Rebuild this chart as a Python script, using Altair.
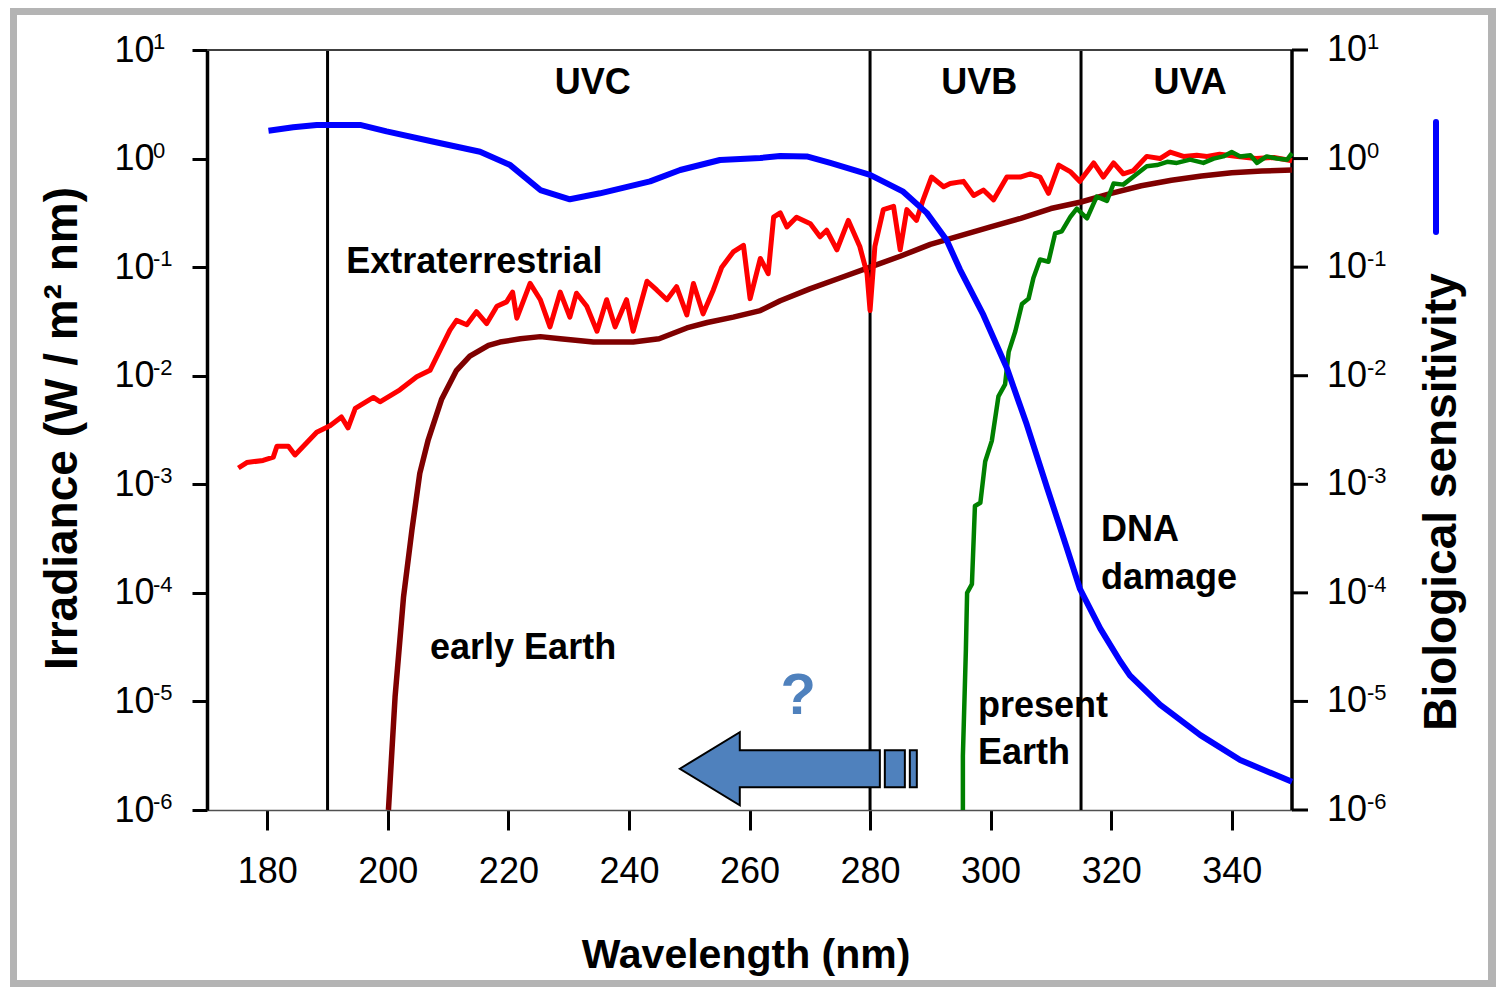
import altair as alt
import pandas as pd

# ---------------- data ----------------
# Extraterrestrial solar irradiance (red), wavelength nm / log10(W m-2 nm-1)
extra_nm = [175.2, 176.6, 179.3, 181.0, 181.6, 183.5, 184.6, 186.5, 188.2, 190.4,
            192.3, 193.4, 194.6, 197.6, 198.7, 202.0, 204.8, 207.0, 208.7, 210.3,
            211.4, 213.1, 214.7, 216.4, 218.1, 219.7, 220.7, 221.4, 223.6, 225.3,
            226.9, 228.6, 230.2, 231.3, 233.0, 234.7, 236.3, 237.7, 239.6, 240.7,
            243.0, 244.6, 246.3, 247.9, 249.6, 250.7, 252.3, 254.0, 255.4, 257.3,
            259.0, 260.1, 261.8, 263.1, 264.0, 265.1, 266.2, 267.8, 270.1, 271.7,
            272.8, 274.5, 276.4, 278.3, 279.5, 280.0, 280.8, 282.2, 283.9, 285.0,
            286.1, 287.7, 288.8, 290.2, 292.2, 293.3, 295.5, 297.2, 298.8, 300.5,
            302.7, 304.9, 306.6, 308.2, 309.6, 311.3, 313.2, 314.8, 317.1, 318.7,
            320.4, 322.0, 323.7, 325.9, 328.1, 329.8, 332.0, 334.2, 335.9, 338.0,
            341.0, 344.0, 347.0, 350.0]
extra_log = [-2.85, -2.80, -2.78, -2.75, -2.65, -2.65, -2.73, -2.62, -2.52, -2.46,
             -2.38, -2.48, -2.30, -2.20, -2.24, -2.13, -2.01, -1.95, -1.76, -1.58,
             -1.49, -1.53, -1.41, -1.52, -1.36, -1.32, -1.23, -1.47, -1.15, -1.30,
             -1.55, -1.23, -1.46, -1.24, -1.36, -1.59, -1.30, -1.55, -1.30, -1.59,
             -1.13, -1.21, -1.30, -1.18, -1.44, -1.15, -1.43, -1.21, -1.00, -0.86,
             -0.80, -1.29, -0.92, -1.06, -0.54, -0.50, -0.63, -0.54, -0.60, -0.72,
             -0.66, -0.84, -0.57, -0.81, -1.06, -1.40, -0.81, -0.47, -0.44, -0.84,
             -0.47, -0.57, -0.38, -0.17, -0.26, -0.23, -0.21, -0.34, -0.29, -0.38,
             -0.17, -0.17, -0.14, -0.17, -0.32, -0.06, -0.12, -0.21, -0.04, -0.17,
             -0.04, -0.14, -0.11, 0.02, 0.00, 0.06, 0.02, 0.03, 0.02, 0.04,
             0.02, 0.00, 0.01, -0.02]

# Early Earth surface irradiance (dark red)
early_nm = [200.1, 201.2, 202.6, 204.0, 205.3, 206.7, 208.9, 211.4, 213.6, 216.7,
            218.6, 222.0, 225.3, 228.6, 234.1, 240.7, 245.0, 249.6, 253.0, 257.3,
            261.8, 265.1, 270.0, 275.0, 280.0, 285.0, 290.0, 295.0, 300.0, 305.0,
            310.0, 315.0, 320.0, 325.0, 330.0, 335.0, 340.0, 345.0, 350.0]
early_log = [-6.0, -4.96, -4.04, -3.42, -2.90, -2.59, -2.22, -1.95, -1.82, -1.72,
             -1.69, -1.66, -1.64, -1.66, -1.69, -1.69, -1.66, -1.56, -1.51, -1.46,
             -1.40, -1.31, -1.20, -1.10, -1.00, -0.90, -0.79, -0.71, -0.63, -0.55,
             -0.46, -0.40, -0.32, -0.25, -0.20, -0.16, -0.13, -0.115, -0.105]

# Present Earth surface irradiance (green)
present_nm = [295.4, 295.4, 295.9, 296.1, 296.9, 297.4, 298.3, 299.1, 300.2, 301.3,
              302.4, 303.0, 304.1, 305.2, 306.3, 307.1, 308.2, 309.6, 310.7, 311.8,
              313.2, 314.3, 316.0, 317.6, 319.3, 320.4, 322.0, 324.3, 325.9, 327.6,
              329.3, 330.9, 333.1, 335.3, 337.0, 338.6, 340.0, 341.4, 343.1, 344.2,
              345.8, 347.5, 349.2, 350.0]
present_log = [-6.0, -5.50, -4.52, -4.00, -3.92, -3.20, -3.17, -2.79, -2.60, -2.19,
               -2.08, -1.78, -1.59, -1.34, -1.29, -1.10, -0.93, -0.95, -0.69, -0.67,
               -0.54, -0.46, -0.55, -0.35, -0.39, -0.23, -0.24, -0.14, -0.07, -0.06,
               -0.03, -0.04, -0.01, -0.04, 0.00, 0.02, 0.06, 0.02, 0.03, -0.04,
               0.02, 0.00, -0.01, 0.05]

# DNA damage action spectrum (blue, right axis)
dna_nm = [180.2, 184.3, 188.2, 195.4, 199.8, 207.6, 215.3, 220.3, 225.3, 230.2,
          235.2, 243.5, 248.5, 255.1, 261.8, 265.1, 269.5, 273.4, 280.0, 285.5,
          289.4, 292.7, 294.9, 298.8, 302.7, 306.0, 309.3, 312.6, 314.8, 318.2,
          321.5, 323.1, 328.1, 334.8, 341.4, 350.0]
dna_log = [0.257, 0.288, 0.31, 0.31, 0.25, 0.155, 0.063, -0.06, -0.29, -0.375,
           -0.32, -0.21, -0.105, -0.013, 0.005, 0.024, 0.02, -0.04, -0.15, -0.305,
           -0.50, -0.75, -1.02, -1.44, -1.93, -2.45, -3.02, -3.58, -3.96, -4.33,
           -4.63, -4.76, -5.03, -5.31, -5.54, -5.74]

band_edges_nm = [190, 280, 315]
x_ticks = [180, 200, 220, 240, 260, 280, 300, 320, 340]
decade_exp = [1, 0, -1, -2, -3, -4, -5, -6]

band_labels = ["UVC", "UVB", "UVA"]
band_label_nm = [234.0, 298.1, 333.1]
band_label_log = [0.70, 0.70, 0.70]

note_text = ["Extraterrestrial", "early Earth", "DNA", "damage", "present", "Earth"]
note_nm = [193.1, 207.0, 318.3, 318.3, 297.9, 297.9]
note_log = [-0.95, -4.51, -3.42, -3.86, -5.04, -5.475]

question_nm, question_log = [268.1], [-4.96]
arrow_nm, arrow_log = [268.1], [-5.62]

# ---------------- helpers ----------------
W, H = 1085, 760
FONT = "Liberation Sans"


def frame(nm, lg, **extra):
    d = pd.DataFrame({"nm": nm, "val": [10.0 ** v for v in lg]})
    for k, v in extra.items():
        d[k] = v
    return d


xscale = alt.Scale(domain=[170, 350], nice=False, zero=False)
yscale = alt.Scale(type="log", domain=[1e-6, 10], nice=False)

xaxis = alt.Axis(values=x_ticks, grid=False, domainColor="#505050", domainWidth=1.5,
                 tickColor="black", tickWidth=3, tickSize=20,
                 labelFont=FONT, labelFontSize=36, labelColor="black", labelPadding=24,
                 labelOverlap=False,
                 title="Wavelength (nm)", titleFont=FONT, titleFontSize=41,
                 titleFontWeight="bold", titleColor="black", titleX=W / 2 - 4, titleY=145,
                 titleBaseline="middle", titleAlign="center")
yaxis = alt.Axis(values=[10.0 ** e for e in decade_exp], grid=False,
                 domainColor="black", domainWidth=3.5, tickColor="black", tickWidth=3,
                 tickSize=15, labelExpr="'10'", labelFont=FONT, labelFontSize=36,
                 labelColor="black", labelPadding=38, labelOverlap=False,
                 title="Irradiance (W / m² nm)", titleFont=FONT, titleFontSize=46,
                 titleFontWeight="bold", titleColor="black", titleX=-145, titleY=H / 2 - 2,
                 titleAngle=270, titleBaseline="middle", titleAlign="center")

X = alt.X("nm:Q", scale=xscale, axis=xaxis)
Y = alt.Y("val:Q", scale=yscale, axis=yaxis)

layers = []

# band edge lines
edges = frame(band_edges_nm, [-6] * 3, top=[10.0] * 3)
layers.append(alt.Chart(edges).mark_rule(color="black", strokeWidth=3).encode(
    x=X, y=Y, y2="top:Q"))

# top border and right axis
layers.append(alt.Chart(frame([170], [1], right=[350])).mark_rule(
    color="#404040", strokeWidth=2).encode(x=X, x2="right:Q", y=Y))
layers.append(alt.Chart(frame([350], [-6], top=[10.0])).mark_rule(
    color="black", strokeWidth=3.5).encode(x=X, y=Y, y2="top:Q"))
dec = frame([350] * len(decade_exp), decade_exp, exp=[str(e) for e in decade_exp])
layers.append(alt.Chart(dec).mark_rule(color="black", strokeWidth=3).encode(
    x=alt.value(W), x2=alt.value(W + 16), y=Y))

# curves
layers.append(alt.Chart(frame(early_nm, early_log)).mark_line(
    color="#7F0000", strokeWidth=5.5, strokeJoin="round").encode(x=X, y=Y))
layers.append(alt.Chart(frame(extra_nm, extra_log)).mark_line(
    color="#FF0000", strokeWidth=5, strokeJoin="round").encode(x=X, y=Y))
layers.append(alt.Chart(frame(present_nm, present_log)).mark_line(
    color="#008000", strokeWidth=4.5, strokeJoin="round").encode(x=X, y=Y))
layers.append(alt.Chart(frame(dna_nm, dna_log)).mark_line(
    color="#0000FF", strokeWidth=6, strokeJoin="round").encode(x=X, y=Y))

# decade exponent labels (superscripts) left and right, "10" on right
layers.append(alt.Chart(dec).mark_text(
    font=FONT, fontSize=22, align="left", baseline="alphabetic", dy=-1,
    color="black").encode(x=alt.value(-54), y=Y, text="exp:N"))
layers.append(alt.Chart(dec).mark_text(
    font=FONT, fontSize=36, align="left", baseline="middle",
    color="black").encode(x=alt.value(W + 35), y=Y, text=alt.value("10")))
layers.append(alt.Chart(dec).mark_text(
    font=FONT, fontSize=22, align="left", baseline="alphabetic", dy=-1,
    color="black").encode(x=alt.value(W + 75), y=Y, text="exp:N"))

# annotations
layers.append(alt.Chart(frame(band_label_nm, band_label_log, label=band_labels)).mark_text(
    font=FONT, fontSize=36, fontWeight="bold", align="center", baseline="middle",
    color="black").encode(x=X, y=Y, text="label:N"))
layers.append(alt.Chart(frame(note_nm, note_log, label=note_text)).mark_text(
    font=FONT, fontSize=36, fontWeight="bold", align="left", baseline="middle",
    color="black").encode(x=X, y=Y, text="label:N"))
layers.append(alt.Chart(frame(question_nm, question_log)).mark_text(
    font=FONT, fontSize=58, fontWeight="bold", align="center", baseline="middle",
    color="#4F81BD").encode(x=X, y=Y, text=alt.value("?")))

arrow_path = ("M -1 0 L -0.494 -0.308 L -0.494 -0.156 L 0.688 -0.156 L 0.688 0.156 "
              "L -0.494 0.156 L -0.494 0.308 Z "
              "M 0.73 -0.156 L 0.899 -0.156 L 0.899 0.156 L 0.73 0.156 Z "
              "M 0.941 -0.156 L 1 -0.156 L 1 0.156 L 0.941 0.156 Z")
layers.append(alt.Chart(frame(arrow_nm, arrow_log)).mark_point(
    shape=arrow_path, size=237 * 237, filled=True, fill="#4F81BD", fillOpacity=1,
    stroke="black", strokeWidth=2, opacity=1).encode(x=X, y=Y))

# right-hand key: blue bar + title
one = pd.DataFrame({"k": [0]})
layers.append(alt.Chart(one).mark_rule(color="#0000FF", strokeWidth=6,
                                       strokeCap="round").encode(
    x=alt.value(W + 144), y=alt.value(72), y2=alt.value(182)))
layers.append(alt.Chart(one).mark_text(
    font=FONT, fontSize=46, fontWeight="bold", angle=270, align="center",
    baseline="middle", color="black").encode(
    x=alt.value(W + 150), y=alt.value(452), text=alt.value("Biological sensitivity")))

# picture frame
for x1, x2, y1, y2 in [(-197, 1289, -42, -35), (-197, -190, -42, 937),
                       (1281, 1289, -42, 937), (-197, 1289, 930, 937)]:
    layers.append(alt.Chart(one).mark_rect(color="#b4b4b4").encode(
        x=alt.value(x1), x2=alt.value(x2), y=alt.value(y1), y2=alt.value(y2)))

chart = alt.layer(*layers).properties(
    width=W, height=H,
    autosize=alt.AutoSizeParams(type="none"),
    padding={"left": 207, "top": 50, "right": 204, "bottom": 177},
    background="white",
).configure_view(stroke=None)

chart.save("out.html", embed_options={"renderer": "svg", "actions": False})
